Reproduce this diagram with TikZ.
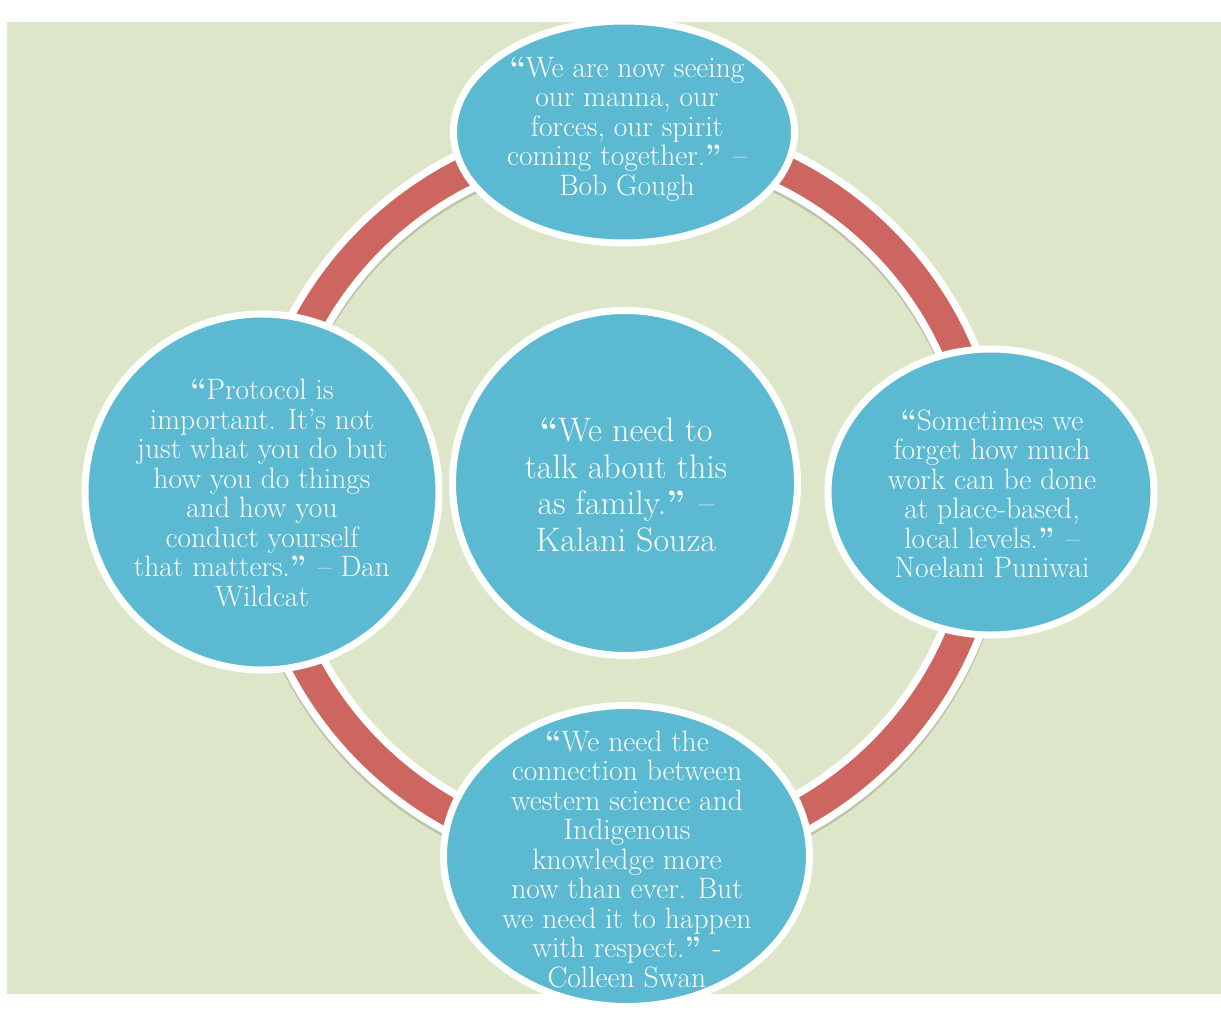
\documentclass[tikz,border=0pt]{standalone}
\usetikzlibrary{shapes.geometric,shadows}
\definecolor{bgreen}{RGB}{222,230,201}
\definecolor{ringred}{RGB}{205,102,96}
\definecolor{qblue}{RGB}{91,185,210}
\begin{document}
\begin{tikzpicture}[x=1pt,y=-1pt,
  bubble/.style={ellipse, fill=qblue, draw=white, line width=7pt, inner sep=0pt,
    drop shadow={shadow xshift=0pt, shadow yshift=-3pt, opacity=0.25, fill=black}},
  quote/.style={text=white, align=center, font=\fontsize{29.5}{29.5}\selectfont, inner sep=0pt},
  bigquote/.style={quote, font=\fontsize{34}{36.7}\selectfont},
  ringshadow/.style={black, opacity=0.15, line width=44pt},
  ringwhite/.style={white, line width=44pt},
  ringband/.style={ringred, line width=29pt}]
\useasboundingbox (0,0) rectangle (1221,1012);
\fill[bgreen] (7,22) rectangle (1221,994);
\coordinate (ring) at (626,496);
\draw[ringshadow] ([yshift=-3pt]ring) circle [radius=362pt];
\draw[ringwhite] (ring) circle [radius=362pt];
\draw[ringband] (ring) circle [radius=362pt];

\node[bubble, minimum width=341pt, minimum height=222pt] (top) at (624,132) {};
\node[bubble, minimum width=326pt, minimum height=286pt] (right) at (991,492) {};
\node[bubble, minimum width=354pt, minimum height=356pt] (left) at (262,492) {};
\node[bubble, minimum width=345pt, minimum height=345pt] (center) at (625,483) {};
\node[bubble, minimum width=366pt, minimum height=301pt] (bottom) at (626.5,856) {};

\node[quote] (toptext) at (627,129) {\textbf{“}We are now seeing\\ our manna, our\\ forces, our spirit\\ coming together.\textbf{”} –\\ Bob Gough};
\node[quote] (righttext) at (992,494) {\textbf{“}Sometimes we\\ forget how much\\ work can be done\\ at place-based,\\ local levels.\textbf{”} –\\ Noelani Puniwai};
\node[quote] (lefttext) at (262,493) {\textbf{“}Protocol is\\ important. It’s not\\ just what you do but\\ how you do things\\ and how you\\ conduct yourself\\ that matters.\textbf{”} – Dan\\ Wildcat};
\node[bigquote] (centertext) at (626,485) {\textbf{“}We need to\\ talk about this\\ as family.\textbf{”} –\\ Kalani Souza};
\node[quote] (bottomtext) at (627,859) {\textbf{“}We need the\\ connection between\\ western science and\\ Indigenous\\ knowledge more\\ now than ever. But\\ we need it to happen\\ with respect.\textbf{”} -\\ Colleen Swan};
\end{tikzpicture}
\end{document}
